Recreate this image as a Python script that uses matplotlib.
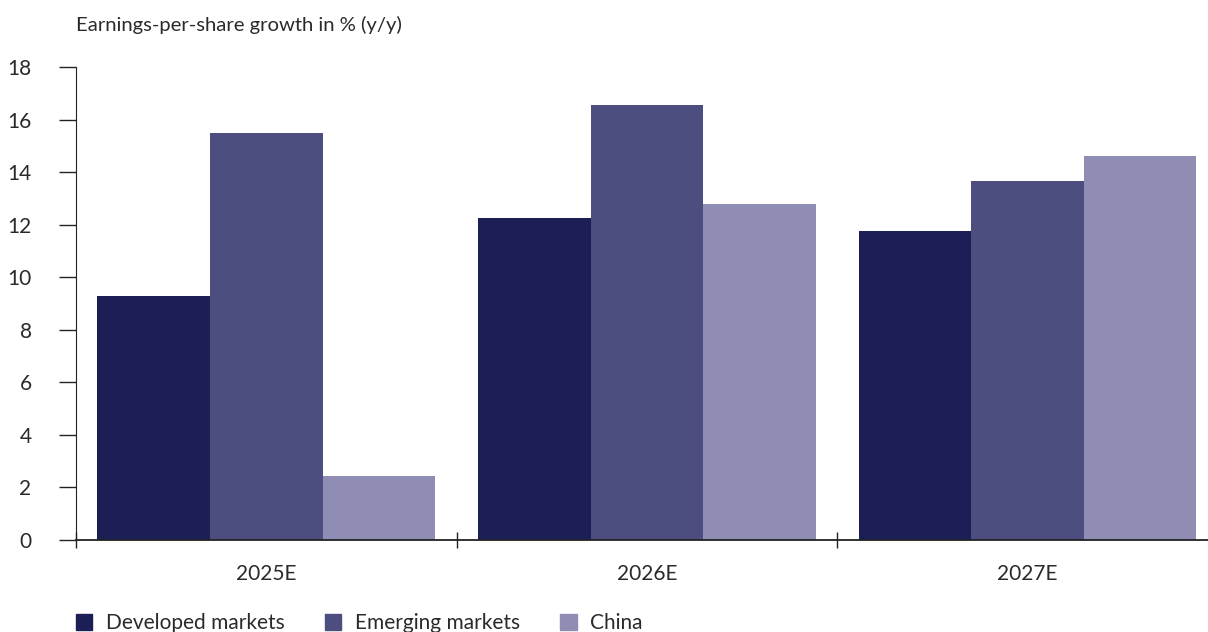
import matplotlib.pyplot as plt
from matplotlib.patches import Patch
import numpy as np

plt.rcParams['font.family'] = ['Lato', 'DejaVu Sans']

# data
years = ['2025E', '2026E', '2027E']
series_names = ['Developed markets', 'Emerging markets', 'China']
developed = [9.3, 12.25, 11.75]
emerging = [15.5, 16.55, 13.65]
china = [2.45, 12.8, 14.6]
colors = ['#1b1f56', '#4c4e80', '#8f8db3']

text_color = '#2a2a2a'

fig = plt.figure(figsize=(12.08, 6.32), dpi=100)
ax = fig.add_axes([76 / 1208, 1 - 540 / 632, 1 - 76 / 1208, (540 - 67) / 632])

x = np.arange(len(years))
width = 0.296
for i, (vals, name) in enumerate(zip([developed, emerging, china], series_names)):
    ax.bar(x + (i - 1) * width, vals, width, color=colors[i], label=name, zorder=2)

ax.set_ylim(0, 18)
ax.set_yticks(range(0, 19, 2))
ax.set_xlim(-0.5, (1208 - 76) / 380.6 - 0.5)

ax.set_xticks(x)
ax.set_xticklabels(years)
ax.set_xticks([-0.5, 0.5, 1.5], minor=True)
ax.tick_params(axis='x', which='major', length=0, pad=17, labelsize=15, labelcolor=text_color)
ax.tick_params(axis='x', which='minor', direction='inout', length=11, width=1, color='#222222')
ax.tick_params(axis='y', direction='out', length=12, width=1, color='#222222',
               pad=20, labelsize=15, labelcolor=text_color)

for s in ['top', 'right']:
    ax.spines[s].set_visible(False)
ax.spines['left'].set_color('#222222')
ax.spines['bottom'].set_color('#222222')
ax.spines['bottom'].set_linewidth(1.3)

fig.text(76 / 1208, 1 - 25 / 632, 'Earnings-per-share growth in % (y/y)',
         fontsize=14.6, color=text_color, va='center', ha='left')

handles = [Patch(color=c) for c in colors]
fig.legend(handles, series_names, loc='center left', bbox_to_anchor=(57 / 1208, 1 - 623 / 632),
           ncol=3, frameon=False, fontsize=15, labelcolor=text_color,
           handlelength=0.78, handleheight=0.78, handletextpad=0.65, columnspacing=1.95)

fig.savefig('out.png', dpi=100)
